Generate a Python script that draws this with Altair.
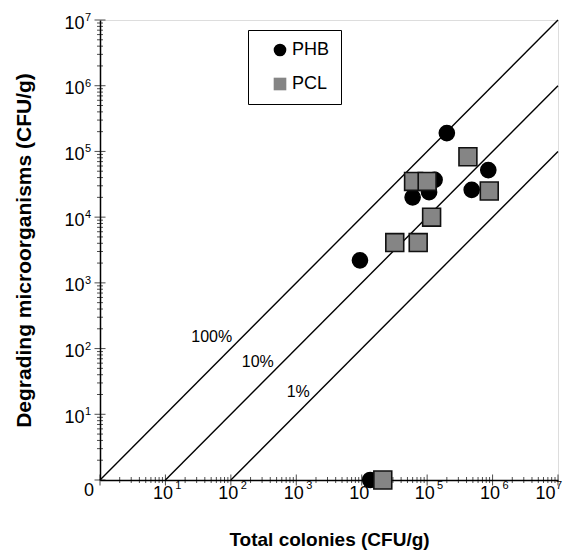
import altair as alt
import pandas as pd

# ---- data ----
phb_x = [2.0e5, 8.6e5, 4.8e5, 6.0e4, 1.07e5, 1.3e5, 9.4e3, 1.35e4]
phb_y = [1.9e5, 5.2e4, 2.6e4, 2.0e4, 2.4e4, 3.7e4, 2.2e3, 1]
pcl_x = [4.2e5, 8.9e5, 6.2e4, 1.0e5, 1.17e5, 3.2e4, 7.3e4, 2.1e4]
pcl_y = [8.3e4, 2.5e4, 3.5e4, 3.5e4, 1.0e4, 4.1e3, 4.1e3, 1]

line_name = ["100%", "100%", "10%", "10%", "1%", "1%"]
line_x = [1, 1e7, 10, 1e7, 100, 1e7]
line_y = [1, 1e7, 1, 1e6, 1, 1e5]

lab_text = ["100%", "10%", "1%"]
lab_x = [51, 258, 1070]
lab_y = [151, 63, 22]

decades = [1, 10, 100, 1e3, 1e4, 1e5, 1e6, 1e7]
exponents = ["", "1", "2", "3", "4", "5", "6", "7"]
minor_mult = [2, 3, 4, 5, 6, 7, 8, 9]
minor = [m * d for d in decades[:-1] for m in minor_mult]

series_names = ["PHB", "PCL"]

phb = pd.DataFrame({"x": phb_x, "y": phb_y, "series": "PHB"})
pcl = pd.DataFrame({"x": pcl_x, "y": pcl_y, "series": "PCL"})
lines = pd.DataFrame({"x": line_x, "y": line_y, "name": line_name})
labs = pd.DataFrame({"x": lab_x, "y": lab_y, "t": lab_text})
maj = pd.DataFrame({"v": decades})
mino = pd.DataFrame({"v": minor})
sup_x_main = pd.DataFrame({"v": decades[1:-1], "e": exponents[1:-1], "one": 1})
sup_x_last = pd.DataFrame({"v": decades[-1:], "e": exponents[-1:], "one": 1})
sup_y = pd.DataFrame({"v": decades[1:], "e": exponents[1:], "one": 1})
origin = pd.DataFrame({"x": [1], "y": [1], "t": ["0"]})

FONT = "Liberation Sans"
W, H = 458, 460

xs = alt.Scale(type="log", domain=[1, 1e7], nice=False)
ys = alt.Scale(type="log", domain=[1, 1e7], nice=False)

lab_expr = "datum.value <= 1 ? '' : '10'"

xaxis = alt.Axis(values=decades, labelExpr=lab_expr, ticks=False, grid=False,
                 domainColor="black", domainWidth=1.5, labelFont=FONT,
                 labelFontSize=18, labelColor="black", labelPadding=4,
                 labelOffset=-3, labelFlush=True,
                 title="Total colonies (CFU/g)", titleFont=FONT,
                 titleFontSize=19, titleFontWeight="bold", titleColor="black",
                 titlePadding=28, labelOverlap=False)
yaxis = alt.Axis(values=decades, labelExpr=lab_expr, ticks=False, grid=False,
                 domainColor="black", domainWidth=1.5, labelFont=FONT,
                 labelFontSize=18, labelColor="black", labelPadding=16,
                 labelOffset=3,
                 title="Degrading microorganisms (CFU/g)", titleFont=FONT,
                 titleFontSize=21, titleFontWeight="bold", titleColor="black",
                 titlePadding=29, labelFlush=False, labelOverlap=False)

line_layer = alt.Chart(lines).mark_line(color="black", strokeWidth=1.4).encode(
    x=alt.X("x:Q", scale=xs, axis=xaxis),
    y=alt.Y("y:Q", scale=ys, axis=yaxis),
    detail="name:N",
)

text_layer = alt.Chart(labs).mark_text(font=FONT, fontSize=16, color="black").encode(
    x="x:Q", y="y:Q", text="t:N"
)

origin_layer = alt.Chart(origin).mark_text(font=FONT, fontSize=18, color="black",
                                           dx=-11, dy=11).encode(
    x="x:Q", y="y:Q", text="t:N"
)

xsup = alt.Chart(sup_x_main).mark_text(font=FONT, fontSize=11, color="black",
                                       dx=13, dy=6).encode(
    x="v:Q", y="one:Q", text="e:N")
xsup_last = alt.Chart(sup_x_last).mark_text(font=FONT, fontSize=11, color="black",
                                            dx=1, dy=6).encode(
    x="v:Q", y="one:Q", text="e:N")
ysup = alt.Chart(sup_y).mark_text(font=FONT, fontSize=11, color="black",
                                  dx=-12, dy=-2).encode(
    y="v:Q", x="one:Q", text="e:N")

xmaj = alt.Chart(maj).mark_tick(color="black", size=11, thickness=1).encode(
    x=alt.X("v:Q"), y=alt.value(H))
xmin = alt.Chart(mino).mark_tick(color="black", size=6, thickness=1).encode(
    x=alt.X("v:Q"), y=alt.value(H))
ymaj = alt.Chart(maj).mark_tick(color="black", size=11, thickness=1).encode(
    y=alt.Y("v:Q"), x=alt.value(0))
ymin = alt.Chart(mino).mark_tick(color="black", size=6, thickness=1).encode(
    y=alt.Y("v:Q"), x=alt.value(0))

legend = alt.Legend(title=None, orient="none", legendX=148, legendY=10,
                    strokeColor="black", fillColor="white",
                    padding=11, symbolOffset=12, labelFont=FONT,
                    labelFontSize=18, labelColor="black",
                    rowPadding=16, symbolSize=160,
                    symbolStrokeColor="black", symbolStrokeWidth=1,
                    labelOffset=3, labelExpr="datum.label + '   '")
shape_enc = alt.Shape("series:N",
                      scale=alt.Scale(domain=series_names, range=["circle", "square"]),
                      legend=legend)
fill_enc = alt.Fill("series:N",
                    scale=alt.Scale(domain=series_names, range=["black", "#858585"]),
                    legend=legend)

phb_layer = alt.Chart(phb).mark_point(filled=True, stroke="black", strokeWidth=1.5,
                                      opacity=1, size=230).encode(
    x="x:Q", y="y:Q", shape=shape_enc, fill=fill_enc)
pcl_layer = alt.Chart(pcl).mark_point(filled=True, stroke="#111", strokeWidth=1.6,
                                      opacity=1, size=320).encode(
    x="x:Q", y="y:Q", shape=shape_enc, fill=fill_enc)

chart = alt.layer(
    line_layer, text_layer, origin_layer, xsup, xsup_last, ysup,
    xmin, xmaj, ymin, ymaj, phb_layer, pcl_layer
).properties(
    width=W, height=H,
    padding={"left": 92, "top": 12, "right": 7, "bottom": 70},
    autosize=alt.AutoSizeParams(type="none"),
).configure_view(
    stroke="#777", strokeWidth=1, strokeDash=[1, 1]
).configure(background="white")

chart.save("out.html", embed_options={"renderer": "svg", "actions": False})
